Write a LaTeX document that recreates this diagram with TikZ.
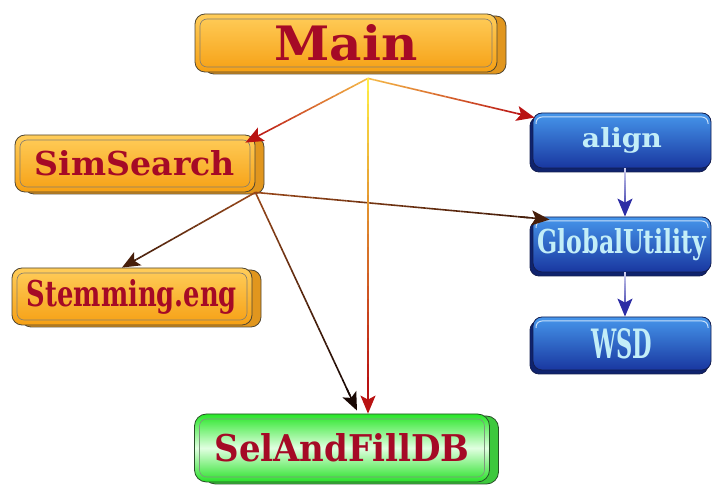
\documentclass[tikz,border=0pt]{standalone}
\usepackage{fontspec}
\setmainfont{DejaVu Serif}
\usepackage{graphicx}
\usetikzlibrary{calc,shadows,arrows.meta}

\definecolor{orTop}{RGB}{255,205,90}
\definecolor{orBot}{RGB}{246,160,20}
\definecolor{orShade}{RGB}{225,150,30}
\definecolor{orEdge}{RGB}{80,70,50}
\definecolor{blTop}{RGB}{70,150,235}
\definecolor{blBot}{RGB}{25,55,160}
\definecolor{blShade}{RGB}{15,35,110}
\definecolor{blEdge}{RGB}{20,30,80}
\definecolor{grTop}{RGB}{40,230,40}
\definecolor{grMid}{RGB}{225,255,225}
\definecolor{grBot}{RGB}{40,225,40}
\definecolor{grShade}{RGB}{60,200,60}
\definecolor{grEdge}{RGB}{40,80,40}
\definecolor{txRed}{RGB}{165,10,38}
\definecolor{txBlue}{RGB}{195,238,248}
\definecolor{aYel}{RGB}{255,238,70}
\definecolor{aOra}{RGB}{245,185,70}
\definecolor{aRed}{RGB}{185,18,18}
\definecolor{aBrn}{RGB}{150,70,25}
\definecolor{aDrk}{RGB}{70,30,10}
\definecolor{aBlk}{RGB}{25,8,4}
\definecolor{aLav}{RGB}{205,205,238}
\definecolor{aBlu}{RGB}{45,45,165}

\tikzset{
  inset/.style={path picture={
      \draw[#1,line width=0.6pt,rounded corners=7pt]
        ([shift={(5pt,-5pt)}]path picture bounding box.north west) rectangle
        ([shift={(-5pt,5pt)}]path picture bounding box.south east);}},
  orangebox/.style={draw=orEdge, line width=0.8pt, rounded corners=10pt,
    top color=orTop, bottom color=orBot, inner sep=0pt,
    copy shadow={shadow xshift=9pt, shadow yshift=-2pt, fill=orShade, draw=orEdge},
    inset=orEdge!70, text=txRed},
  greenbox/.style={draw=grEdge, line width=0.8pt, rounded corners=12pt,
    top color=grTop, bottom color=grBot, middle color=grMid, inner sep=0pt,
    copy shadow={shadow xshift=9pt, shadow yshift=-2pt, fill=grShade, draw=grEdge},
    inset=grEdge!60, text=txRed},
  bluebox/.style={draw=blEdge, line width=0.8pt, rounded corners=9pt,
    top color=blTop, bottom color=blBot, inner sep=0pt,
    copy shadow={shadow xshift=-3pt, shadow yshift=-4pt, fill=blShade, draw=blEdge},
    path picture={
      \draw[white!70!blTop, line width=1pt, rounded corners=6pt]
        ([shift={(3pt,-11pt)}]path picture bounding box.north west) --
        ([shift={(3pt,-4pt)}]path picture bounding box.north west) --
        ([shift={(-3pt,-4pt)}]path picture bounding box.north east) --
        ([shift={(-3pt,-11pt)}]path picture bounding box.north east);},
    text=txBlue},
}

% connector whose colour runs from #3 at the start to #4 at the tip
\newcommand\gradarrow[4]{%
  \foreach \k in {0,...,23}{%
    \pgfmathsetmacro\pa{0.93*\k/24}%
    \pgfmathsetmacro\pb{0.93*(\k+1)/24}%
    \pgfmathsetmacro\pc{100-100*\k/23}%
    \draw[line width=1.6pt, color=#3!\pc!#4]
      ($(#1)!\pa!(#2)$) -- ($(#1)!\pb!(#2)$);
  }%
  \draw[-{Stealth[length=18pt,width=15pt,inset=4pt]}, line width=1.6pt, #4]
    ($(#1)!0.9!(#2)$) -- (#2);
}

\begin{document}
\begin{tikzpicture}[x=1pt,y=1pt]
\useasboundingbox (0,0) rectangle (713,490);

\node[orangebox, minimum width=302pt, minimum height=58pt] (main) at (346,447)
  {\resizebox{143pt}{36pt}{\bfseries Main}};
\node[orangebox, minimum width=240pt, minimum height=57pt] (sim) at (135,326.5)
  {\resizebox{200pt}{25pt}{\bfseries SimSearch}};
\node[orangebox, minimum width=240pt, minimum height=57pt] (stem) at (132,193.5)
  {\raisebox{2pt}{\resizebox{210pt}{27pt}{\bfseries Stemming.eng}}};
\node[greenbox, minimum width=295pt, minimum height=68pt] (sel) at (342,42)
  {\resizebox{255pt}{28pt}{\bfseries SelAndFillDB}};
\node[bluebox, minimum width=178pt, minimum height=55pt] (align) at (622,349.5)
  {\resizebox{80pt}{20pt}{\bfseries align}};
\node[bluebox, minimum width=178pt, minimum height=55pt] (glob) at (622,245.5)
  {\resizebox{169pt}{25pt}{\bfseries GlobalUtility}};
\node[bluebox, minimum width=178pt, minimum height=53pt] (wsd) at (622,146.5)
  {\resizebox{61pt}{30pt}{\bfseries WSD}};

% anchor points for the connectors
\coordinate (mainout) at ([xshift=22pt,yshift=-6pt]main.south);
\coordinate (simout)  at (sim.south east);
\coordinate (simin)   at ([xshift=-10pt,yshift=-8pt]sim.north east);
\coordinate (alignin) at ([xshift=2pt,yshift=-5pt]align.north west);
\coordinate (selinA)  at ([xshift=26pt]sel.north);
\coordinate (selinB)  at ([xshift=15pt,yshift=3pt]sel.north);
\coordinate (stemin)  at ([xshift=-10pt]stem.north);
\coordinate (globinL) at ([xshift=17pt,yshift=-3pt]glob.north west);
\coordinate (alignout) at ([xshift=3pt]align.south);
\coordinate (globinT) at ([xshift=3pt]glob.north);
\coordinate (globout) at ([xshift=3pt]glob.south);
\coordinate (wsdin)   at ([xshift=3pt]wsd.north);

\gradarrow{simout}{stemin}{aBrn}{aDrk}
\gradarrow{simout}{selinB}{aBrn}{aBlk}
\gradarrow{simout}{globinL}{aBrn}{aDrk}
\gradarrow{mainout}{simin}{aOra}{aRed}
\gradarrow{mainout}{alignin}{aOra}{aRed}
\gradarrow{mainout}{selinA}{aYel}{aRed}
\gradarrow{alignout}{globinT}{aLav}{aBlu}
\gradarrow{globout}{wsdin}{aLav}{aBlu}
\end{tikzpicture}
\end{document}
